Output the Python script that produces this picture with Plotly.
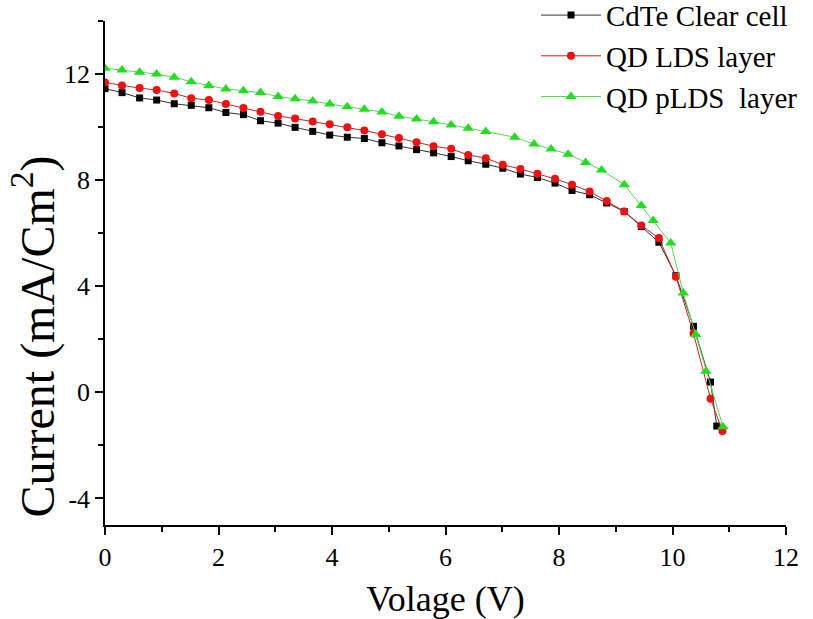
import plotly.graph_objects as go

# Voltage sweep points (V) and current densities (mA/cm^2) for each device
v_clear = [0, 0.3, 0.61, 0.91, 1.22, 1.52, 1.83, 2.13, 2.44, 2.74, 3.05, 3.35,
           3.66, 3.96, 4.27, 4.57, 4.88, 5.18, 5.49, 5.79, 6.1, 6.4, 6.71, 7.01,
           7.32, 7.62, 7.93, 8.23, 8.54, 8.84, 9.15, 9.45, 9.76, 10.06, 10.37,
           10.67, 10.78]
i_clear = [11.45, 11.30, 11.10, 11.02, 10.88, 10.82, 10.73, 10.55, 10.47, 10.24,
           10.15, 9.99, 9.84, 9.70, 9.62, 9.57, 9.41, 9.29, 9.15, 9.03, 8.89,
           8.73, 8.60, 8.45, 8.23, 8.10, 7.89, 7.61, 7.45, 7.14, 6.82, 6.25,
           5.66, 4.40, 2.49, 0.39, -1.27]

v_lds = [0, 0.3, 0.61, 0.91, 1.22, 1.52, 1.83, 2.13, 2.44, 2.74, 3.05, 3.35,
         3.66, 3.96, 4.27, 4.57, 4.88, 5.18, 5.49, 5.79, 6.1, 6.4, 6.71, 7.01,
         7.32, 7.62, 7.93, 8.23, 8.54, 8.84, 9.15, 9.45, 9.76, 10.06, 10.37,
         10.67, 10.88]
i_lds = [11.68, 11.57, 11.47, 11.40, 11.27, 11.09, 11.02, 10.87, 10.72, 10.58,
         10.42, 10.32, 10.21, 10.11, 9.99, 9.87, 9.73, 9.59, 9.43, 9.28, 9.18,
         8.95, 8.83, 8.58, 8.42, 8.24, 8.05, 7.83, 7.57, 7.21, 6.82, 6.29,
         5.82, 4.36, 2.22, -0.24, -1.46]

v_plds = [0, 0.3, 0.61, 0.91, 1.22, 1.52, 1.83, 2.13, 2.44, 2.74, 3.05, 3.35,
          3.66, 3.96, 4.27, 4.57, 4.88, 5.18, 5.49, 5.79, 6.1, 6.4, 6.71, 7.22,
          7.56, 7.86, 8.16, 8.47, 8.75, 9.15, 9.45, 9.66, 9.97, 10.19, 10.41,
          10.59, 10.89]
i_plds = [12.22, 12.15, 12.07, 12.00, 11.88, 11.71, 11.57, 11.44, 11.37, 11.30,
          11.15, 11.07, 10.98, 10.87, 10.77, 10.67, 10.57, 10.41, 10.31, 10.20,
          10.08, 9.96, 9.83, 9.62, 9.36, 9.17, 8.98, 8.67, 8.38, 7.83, 7.04,
          6.48, 5.63, 3.75, 2.18, 0.80, -1.30]

# Tick positions and labels (plain hyphen for negatives)
x_ticks = [0, 2, 4, 6, 8, 10, 12]
x_tick_text = ["0", "2", "4", "6", "8", "10", "12"]
y_ticks = [-4, 0, 4, 8, 12]
y_tick_text = ["-4", "0", "4", "8", "12"]

series = [
    ("CdTe Clear cell", v_clear, i_clear, "#000000", "#333333", "square", 7),
    ("QD LDS layer", v_lds, i_lds, "#ee1111", "#cc2222", "circle", 8),
    ("QD pLDS  layer", v_plds, i_plds, "#22dd22", "#55dd55", "triangle-up", 10),
]

FONT = "Liberation Serif, Times New Roman, serif"

fig = go.Figure()
for name, v, i, mcol, lcol, sym, size in series:
    fig.add_trace(go.Scatter(
        x=v, y=i, name=name, mode="lines+markers",
        line=dict(color=lcol, width=1),
        marker=dict(symbol=sym, size=size, color=mcol, line=dict(width=0)),
    ))

axis_common = dict(
    showline=True, linecolor="black", linewidth=1.5,
    ticks="outside", ticklen=8, tickwidth=1.5, tickcolor="black",
    showgrid=False, zeroline=False, mirror=False,
    tickfont=dict(family=FONT, size=26, color="black"),
    tickmode="array",
)

fig.update_xaxes(
    range=[0, 12], tickvals=x_ticks, ticktext=x_tick_text,
    minor=dict(tickmode="linear", tick0=0, dtick=1, ticks="outside", ticklen=5,
               tickwidth=1.5, tickcolor="black"),
    title=dict(text="Volage (V)", font=dict(family=FONT, size=36, color="black"), standoff=18),
    **axis_common,
)
fig.update_yaxes(
    range=[-5, 14], tickvals=y_ticks, ticktext=y_tick_text,
    minor=dict(tickmode="linear", tick0=0, dtick=2, ticks="outside", ticklen=5,
               tickwidth=1.5, tickcolor="black"),
    **axis_common,
)

# Y-axis title, placed a little below the vertical centre of the axis
fig.add_annotation(
    text="Current (mA/Cm<sup>2</sup>)", textangle=-90,
    xref="paper", yref="paper", x=-0.105, y=0.375,
    xanchor="center", yanchor="middle", showarrow=False,
    font=dict(family=FONT, size=48, color="black"),
)

fig.update_layout(
    width=813, height=619,
    margin=dict(l=105, r=27, t=21, b=94, autoexpand=False),
    paper_bgcolor="white", plot_bgcolor="white",
    legend=dict(
        xref="paper", yref="paper",
        x=1.025, xanchor="right", y=1.062, yanchor="top",
        font=dict(family=FONT, size=29, color="black"),
        bgcolor="rgba(0,0,0,0)", tracegroupgap=0, itemwidth=60,
    ),
    showlegend=True,
)

fig.write_html("out.html")
